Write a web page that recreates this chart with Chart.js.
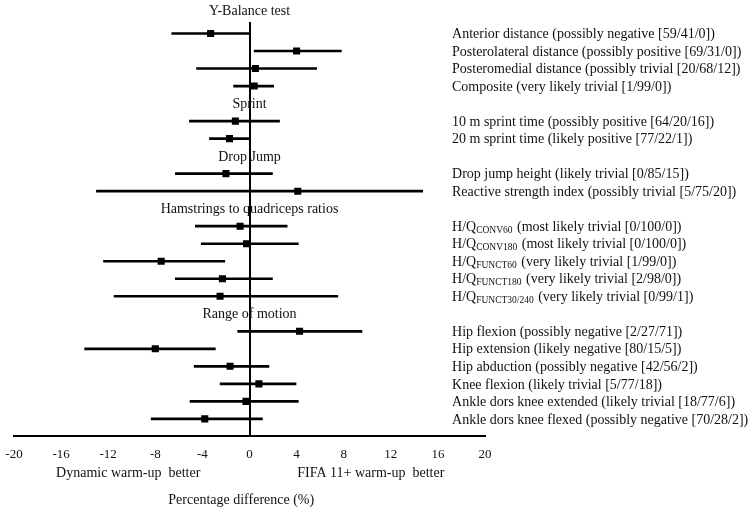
<!DOCTYPE html>
<html>
<head>
<meta charset="utf-8">
<script src="https://cdn.jsdelivr.net/npm/chart.js@4.4.1/dist/chart.umd.min.js"></script>
<style>
  html, body { margin: 0; padding: 0; background: #fff; }
  #wrap { width: 750px; height: 513px; position: relative; }
</style>
</head>
<body>
<div id="wrap"><canvas id="forestChart"></canvas></div>
<script>
// groups and how many outcomes fall under each
const groupNames = ['Y-Balance test', 'Sprint', 'Drop Jump', 'Hamstrings to quadriceps ratios', 'Range of motion'];
const groupSizes = [4, 2, 2, 5, 6];

// outcome labels, _{..} marks a subscript
const outcomeLabels = [
    'Anterior distance (possibly negative [59/41/0])',
    'Posterolateral distance (possibly positive [69/31/0])',
    'Posteromedial distance (possibly trivial [20/68/12])',
    'Composite (very likely trivial [1/99/0])',
    '10 m sprint time (possibly positive [64/20/16])',
    '20 m sprint time (likely positive [77/22/1])',
    'Drop jump height (likely trivial [0/85/15])',
    'Reactive strength index (possibly trivial [5/75/20])',
    'H/Q_{CONV60} (most likely trivial [0/100/0])',
    'H/Q_{CONV180} (most likely trivial [0/100/0])',
    'H/Q_{FUNCT60} (very likely trivial [1/99/0])',
    'H/Q_{FUNCT180} (very likely trivial [2/98/0])',
    'H/Q_{FUNCT30/240} (very likely trivial [0/99/1])',
    'Hip flexion (possibly negative [2/27/71])',
    'Hip extension (likely negative [80/15/5])',
    'Hip abduction (possibly negative [42/56/2])',
    'Knee flexion (likely trivial [5/77/18])',
    'Ankle dors knee extended (likely trivial [18/77/6])',
    'Ankle dors knee flexed (possibly negative [70/28/2])'
];

// percentage difference and 90% limits
const estimates = [-3.3, 4.0, 0.5, 0.4, -1.2, -1.7, -2.0, 4.1, -0.8, -0.25, -7.5, -2.3, -2.5, 4.25, -8.0, -1.65, 0.8, -0.3, -3.8];
const lowerCL   = [-6.6, 0.4, -4.5, -1.35, -5.1, -3.4, -6.3, -13.0, -4.6, -4.1, -12.4, -6.3, -11.5, -1.0, -14.0, -4.7, -2.5, -5.05, -8.35];
const upperCL   = [0, 7.8, 5.7, 2.05, 2.55, 0, 1.95, 14.7, 3.2, 4.15, -2.1, 1.95, 7.5, 9.55, -2.9, 1.65, 3.95, 4.15, 1.1];

const xTicks = [-20, -16, -12, -8, -4, 0, 4, 8, 12, 16, 20];
const sideLabels = ['Dynamic warm-up  better', 'FIFA 11+ warm-up  better'];
const axisTitle = 'Percentage difference (%)';

const serif = '"Liberation Serif", "Times New Roman", serif';

// work out row numbers: each group gets a header row, then its outcomes
const headerRows = [];
const outcomeRows = [];
let row = 0;
groupSizes.forEach((n, g) => {
    headerRows.push(row++);
    for (let i = 0; i < n; i++) outcomeRows.push(row++);
});
const lastRow = row; // the x axis sits one row below the last outcome

function drawLabel(ctx, text, x, y) {
    const m = text.match(/^(.*?)_\{(.*?)\}(.*)$/);
    ctx.font = '14px ' + serif;
    if (!m) { ctx.fillText(text, x, y); return; }
    ctx.fillText(m[1], x, y);
    x += ctx.measureText(m[1]).width;
    ctx.font = '9.5px ' + serif;
    ctx.fillText(m[2], x, y + 3);
    x += ctx.measureText(m[2]).width + 1;
    ctx.font = '14px ' + serif;
    ctx.fillText(m[3], x, y);
}

const textPlugin = {
    id: 'forestText',
    afterDraw(chart) {
        const ctx = chart.ctx;
        const xs = chart.scales.x, ys = chart.scales.y;
        const area = chart.chartArea;
        ctx.save();
        ctx.fillStyle = '#111';
        ctx.textBaseline = 'middle';

        // group headers, centred on the zero line; the first one sits above the top of it
        ctx.textAlign = 'center';
        ctx.font = '14px ' + serif;
        headerRows.forEach((r, i) => {
            let y = ys.getPixelForValue(r) + 1;
            if (y < area.top) y = area.top - 12;
            ctx.fillText(groupNames[i], xs.getPixelForValue(0), y);
        });

        // outcome labels on the right
        ctx.textAlign = 'left';
        outcomeRows.forEach((r, i) => {
            drawLabel(ctx, outcomeLabels[i], xs.getPixelForValue(17.2), ys.getPixelForValue(r) + 1);
        });

        // which side favours what, then the axis title
        ctx.textAlign = 'center';
        ctx.font = '14px ' + serif;
        ctx.fillText(sideLabels[0], xs.getPixelForValue(-10.3), area.bottom + 37);
        ctx.fillText(sideLabels[1], xs.getPixelForValue(10.3), area.bottom + 37);
        ctx.fillText(axisTitle, xs.getPixelForValue(-0.7), area.bottom + 64);
        ctx.restore();
    }
};

new Chart(document.getElementById('forestChart'), {
    type: 'bar',
    data: {
        datasets: [
            {
                type: 'bar',
                indexAxis: 'y',
                data: outcomeRows.map((r, i) => ({ x: [lowerCL[i], upperCL[i]], y: r })),
                backgroundColor: '#000',
                borderWidth: 0,
                barThickness: 2
            },
            {
                type: 'scatter',
                data: outcomeRows.map((r, i) => ({ x: estimates[i], y: r })),
                pointStyle: 'rect',
                pointRadius: 5,
                backgroundColor: '#000',
                borderColor: '#000',
                borderWidth: 0
            }
        ]
    },
    options: {
        responsive: true,
        maintainAspectRatio: false,
        animation: false,
        indexAxis: 'y',
        layout: { padding: { left: 14, right: 265, top: 23, bottom: 41 } },
        plugins: {
            legend: { display: false },
            tooltip: { enabled: false }
        },
        scales: {
            x: {
                type: 'linear',
                position: 'bottom',
                min: -20,
                max: 20,
                offset: false,
                afterBuildTicks: (axis) => { axis.ticks = xTicks.map(v => ({ value: v })); },
                afterFit: (axis) => { axis.paddingLeft = 0; axis.paddingRight = 0; },
                grid: { display: false, drawTicks: false },
                border: { display: true, color: '#000', width: 2 },
                ticks: { color: '#111', font: { family: serif, size: 13 }, padding: 10, maxRotation: 0 }
            },
            y: {
                type: 'linear',
                position: { x: 0 },
                reverse: true,
                min: 0.4,
                max: lastRow,
                offset: false,
                grid: { display: false, drawTicks: false },
                border: { display: true, color: '#000', width: 2 },
                ticks: { display: false }
            }
        }
    },
    plugins: [textPlugin]
});
</script>
</body>
</html>
